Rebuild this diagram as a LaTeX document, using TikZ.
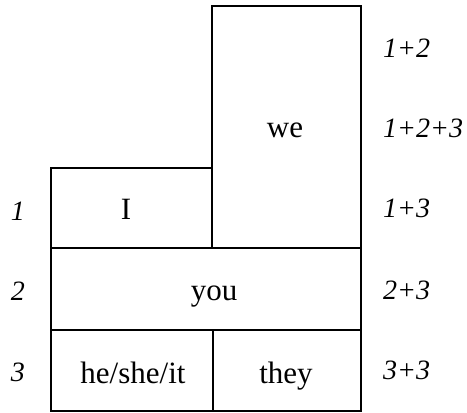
\documentclass[tikz,border=0pt]{standalone}
\usepackage{fontspec}
\setmainfont{Liberation Serif}
\begin{document}
\begin{tikzpicture}[x=1pt,y=-1pt,
  cell/.style={draw=black,line width=1.8pt},
  word/.style={font=\fontsize{31}{36}\selectfont,inner sep=0pt,anchor=base},
  num/.style={font=\fontsize{28}{32}\selectfont\itshape,inner sep=0pt,anchor=base west}]
\useasboundingbox (0,0) rectangle (467,413);
% boxes
\draw[cell] (212,6) rectangle (361,248);
\draw[cell] (51,168) rectangle (212,248);
\draw[cell] (51,248) rectangle (361,330);
\draw[cell] (51,330) rectangle (213,411);
\draw[cell] (213,330) rectangle (361,411);
% words
\node[word] (we) at (285,137) {we};
\node[word] (i) at (126,219) {I};
\node[word] (you) at (214,300) {you};
\node[word] (he) at (133,383) {he/she/it};
\node[word] (they) at (286,383) {they};
% left numbers
\node[num,anchor=base] (l1) at (18,220) {1};
\node[num,anchor=base] (l2) at (18,300) {2};
\node[num,anchor=base] (l3) at (18,381) {3};
% right labels
\node[num] (r1) at (383,57) {1+2};
\node[num] (r2) at (383,137) {1+2+3};
\node[num] (r3) at (383,217) {1+3};
\node[num] (r4) at (383,299) {2+3};
\node[num] (r5) at (383,379) {3+3};
\end{tikzpicture}
\end{document}
